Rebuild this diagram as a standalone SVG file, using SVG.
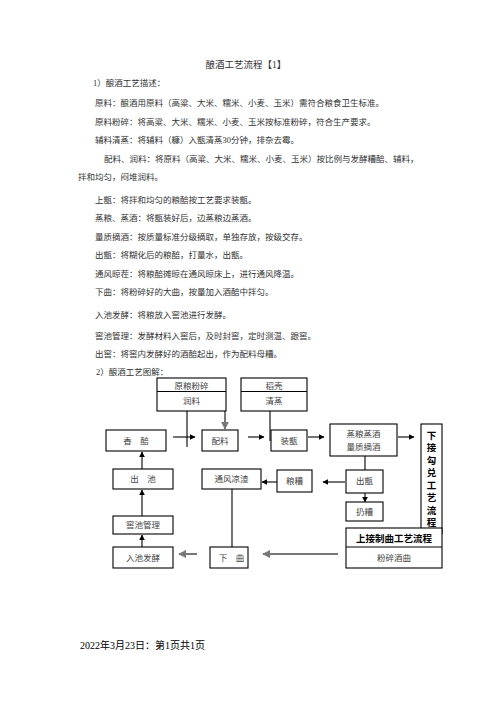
<svg xmlns="http://www.w3.org/2000/svg" width="496" height="702" viewBox="0 0 496 702">
<style>
text{font-family:"Liberation Serif","Noto Sans CJK SC",serif;}
.p{font-size:8.5px;fill:#333;}
.t{font-size:9.5px;fill:#333;}
.b rect,.b line{fill:#fff;stroke:#000;stroke-width:1.1;}
.n{font-size:8.5px;fill:#444;text-anchor:middle;}
.bd{font-size:9.5px;fill:#000;font-weight:bold;text-anchor:middle;}
.a{stroke:#000;stroke-width:1.1;fill:none;}
.g{stroke:#777;stroke-width:2;fill:none;}
</style>
<defs>
<marker id="ab" viewBox="0 0 10 10" refX="9" refY="5" markerWidth="6" markerHeight="6" markerUnits="userSpaceOnUse" orient="auto"><path d="M0,0L10,5L0,10z" fill="#000"/></marker>
<marker id="ag" viewBox="0 0 10 10" refX="9" refY="5" markerWidth="4" markerHeight="4" orient="auto"><path d="M0,0L10,5L0,10z" fill="#777"/></marker>
</defs>
<rect width="496" height="702" fill="#fff"/>
<g id="text">
<text class="t" x="246" y="68" text-anchor="middle">酿酒工艺流程【1】</text>
<text class="p" x="93" y="86">1）酿酒工艺描述：</text>
<text class="p" x="95" y="106">原料：酿酒用原料（高粱、大米、糯米、小麦、玉米）需符合粮食卫生标准。</text>
<text class="p" x="95" y="125">原料粉碎：将高粱、大米、糯米、小麦、玉米按标准粉碎，符合生产要求。</text>
<text class="p" x="95" y="143">辅料清蒸：将辅料（糠）入甑清蒸30分钟，排杂去霉。</text>
<text class="p" x="104" y="162">配料、润料：将原料（高粱、大米、糯米、小麦、玉米）按比例与发酵糟醅、辅料，</text>
<text class="p" x="78" y="180">拌和均匀，闷堆润料。</text>
<text class="p" x="95" y="203">上甑：将拌和均匀的粮醅按工艺要求装甑。</text>
<text class="p" x="95" y="221">蒸粮、蒸酒：将甑装好后，边蒸粮边蒸酒。</text>
<text class="p" x="95" y="240">量质摘酒：按质量标准分级摘取，单独存放，按级交存。</text>
<text class="p" x="95" y="258">出甑：将糊化后的粮醅，打量水，出甑。</text>
<text class="p" x="95" y="277">通风晾茬：将粮醅摊晾在通风晾床上，进行通风降温。</text>
<text class="p" x="95" y="295">下曲：将粉碎好的大曲，按量加入酒醅中拌匀。</text>
<text class="p" x="95" y="318">入池发酵：将粮放入窖池进行发酵。</text>
<text class="p" x="95" y="339">窖池管理：发酵材料入窖后，及时封窖，定时测温、跟窖。</text>
<text class="p" x="95" y="357">出窖：将窖内发酵好的酒醅起出，作为配料母糟。</text>
<text class="p" x="96" y="375">2）酿酒工艺图解：</text>
<text x="80" y="649" style="font-size:10px;fill:#000;">2022年3月23日：第1页共1页</text>
</g>
<g id="connectors">
<line class="a" x1="187" y1="411" x2="187" y2="447"/>
<line class="a" x1="173" y1="437" x2="195" y2="437" marker-end="url(#ab)"/>
<line class="g" x1="225" y1="411" x2="225" y2="429" marker-end="url(#ag)"/>
<line class="a" x1="270" y1="411" x2="270" y2="441"/>
<line class="a" x1="248" y1="437" x2="264" y2="437" marker-end="url(#ab)"/>
<line class="a" x1="308" y1="437" x2="324" y2="437" marker-end="url(#ab)"/>
<line class="a" x1="398" y1="437" x2="414" y2="437" marker-end="url(#ab)"/>
<line class="a" x1="365" y1="456" x2="365" y2="470"/>
<line class="a" x1="345" y1="482" x2="323" y2="482" marker-end="url(#ab)"/>
<line class="a" x1="277" y1="482" x2="262" y2="482" marker-end="url(#ab)"/>
<line class="a" x1="365" y1="493" x2="365" y2="502" marker-end="url(#ab)"/>
<line class="a" x1="142" y1="469" x2="142" y2="452" marker-end="url(#ab)"/>
<line class="a" x1="142" y1="516" x2="142" y2="490" marker-end="url(#ab)"/>
<line class="a" x1="142" y1="547" x2="142" y2="535" marker-end="url(#ab)"/>
<line class="a" x1="232" y1="489" x2="232" y2="568" marker-end="url(#ab)"/>
<line class="g" x1="197" y1="554" x2="179" y2="554" marker-end="url(#ag)"/>
<line class="g" x1="338" y1="554" x2="263" y2="554" marker-end="url(#ag)"/>
</g>
<g id="n-yuanliang" class="b">
<rect x="157" y="378" width="69" height="33"/><line x1="157" y1="391.5" x2="226" y2="391.5"/>
<text class="n" x="191.5" y="389">原粮粉碎</text><text class="n" x="191.5" y="404">润料</text>
</g>
<g id="n-daoke" class="b">
<rect x="241" y="378" width="66" height="33"/><line x1="241" y1="391.5" x2="307" y2="391.5"/>
<text class="n" x="274" y="389">稻壳</text><text class="n" x="274" y="404">清蒸</text>
</g>
<g id="n-xiangpei" class="b"><rect x="106" y="430" width="60" height="21"/><text class="n" x="136" y="444">香　醅</text></g>
<g id="n-peiliao" class="b"><rect x="202" y="430" width="36" height="21"/><text class="n" x="220" y="444">配料</text></g>
<g id="n-zhuangzeng" class="b"><rect x="271" y="430" width="36" height="21"/><text class="n" x="289" y="444">装甑</text></g>
<g id="n-zhengliang" class="b"><rect x="330" y="424" width="67" height="32"/><text class="n" x="363.5" y="437">蒸粮蒸酒</text><text class="n" x="363.5" y="450">量质摘酒</text></g>
<g id="n-xiajie" class="b"><rect x="421" y="424" width="21" height="110"/>
<text class="bd" x="431.5" y="438.5">下</text><text class="bd" x="431.5" y="451">接</text><text class="bd" x="431.5" y="463.5">勾</text><text class="bd" x="431.5" y="476">兑</text><text class="bd" x="431.5" y="488.5">工</text><text class="bd" x="431.5" y="501">艺</text><text class="bd" x="431.5" y="513.5">流</text><text class="bd" x="431.5" y="526">程</text>
</g>
<g id="n-chuchi" class="b"><rect x="113" y="469" width="60" height="20"/><text class="n" x="143" y="482">出　池</text></g>
<g id="n-tongfeng" class="b"><rect x="202" y="469" width="59" height="20"/><text class="n" x="231.5" y="482">通风凉渣</text></g>
<g id="n-liangzao" class="b"><rect x="277" y="470" width="35" height="22"/><text class="n" x="294.5" y="484">粮糟</text></g>
<g id="n-chuzeng" class="b"><rect x="346" y="470" width="37" height="23"/><text class="n" x="364.5" y="484">出甑</text></g>
<g id="n-rengzao" class="b"><rect x="346" y="502" width="37" height="19"/><text class="n" x="364.5" y="514.5">扔糟</text></g>
<g id="n-jiaochi" class="b"><rect x="113" y="516" width="60" height="18"/><text class="n" x="143" y="528">窖池管理</text></g>
<g id="n-ruchi" class="b"><rect x="113" y="547" width="60" height="21"/><text class="n" x="143" y="560.5">入池发酵</text></g>
<g id="n-xiaqu" class="b"><rect x="210" y="547" width="38" height="21"/><text class="n" x="223" y="560.5">下</text><text class="n" x="240" y="560.5">曲</text></g>
<g id="n-shangjie" class="b">
<rect x="346" y="528" width="96" height="40"/><line x1="346" y1="547" x2="442" y2="547"/>
<text class="bd" x="394" y="541.5">上接制曲工艺流程</text><text class="n" x="394" y="560.5">粉碎酒曲</text>
</g>
</svg>
